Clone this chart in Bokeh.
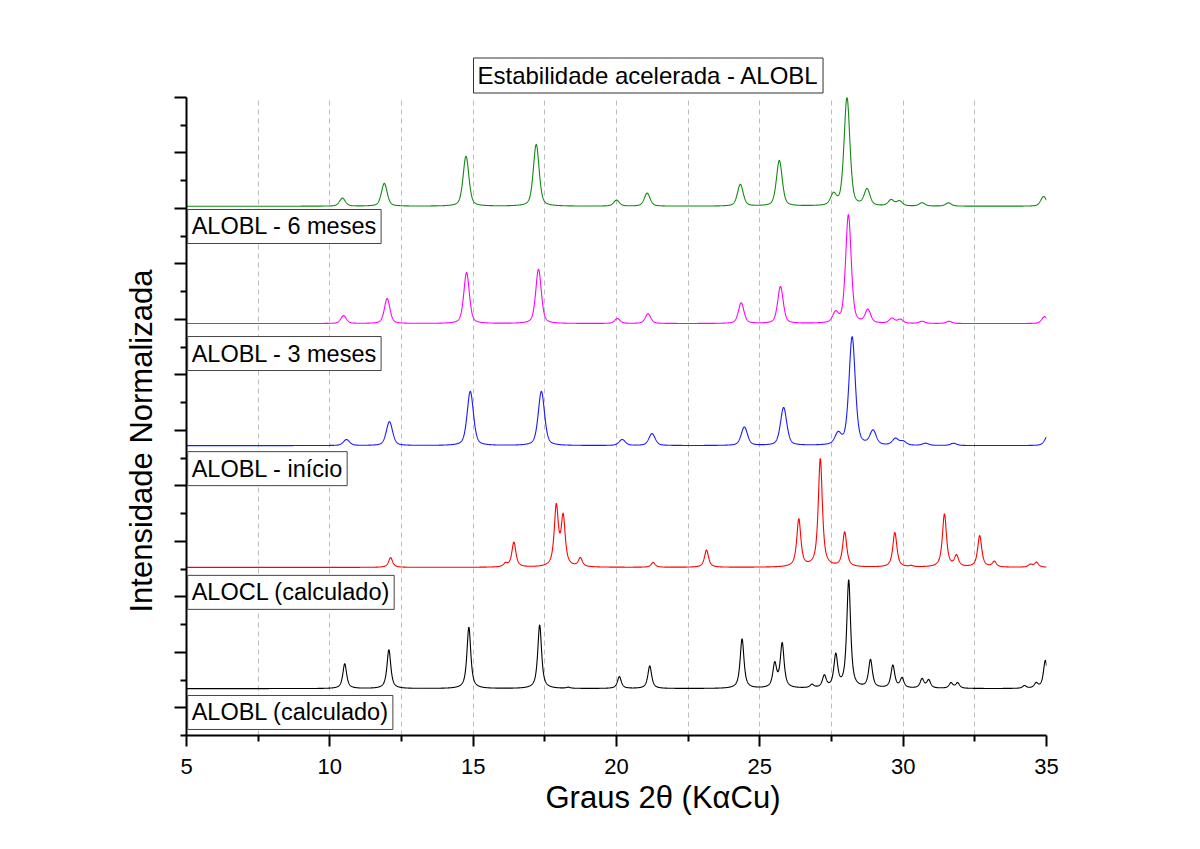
import numpy as np
from bokeh.plotting import figure
from bokeh.models import Label, FixedTicker, CustomJSTickFormatter, Range1d, Title
from bokeh.embed import file_html
from bokeh.resources import INLINE

# ---------------- data ----------------
x_start, x_end = 5, 35
y_start, y_end = 0, 23

# ALOBL (calculado) - black
alobl_calc_pos = [10.52, 12.06, 14.85, 17.32, 18.32, 20.10, 21.16, 24.38, 25.52, 25.78, 26.82,
                  27.25, 27.65, 28.10, 28.86, 29.64, 29.96, 30.66, 30.89, 31.67, 31.90,
                  34.23, 34.64, 34.96]
alobl_calc_int = [0.23, 0.36, 0.57, 0.59, 0.01, 0.11, 0.21, 0.46, 0.22, 0.41, 0.03,
                  0.11, 0.30, 1.00, 0.26, 0.21, 0.09, 0.085, 0.075, 0.05, 0.05,
                  0.025, 0.045, 0.26]

# ALOCL (calculado) - red
alocl_calc_pos = [12.12, 16.13, 16.42, 17.90, 18.14, 18.74, 21.28, 23.14, 26.36, 27.11, 27.96,
                  29.71, 30.28, 31.44, 31.86, 32.67, 33.18, 34.44, 34.65]
alocl_calc_int = [0.09, 0.03, 0.23, 0.55, 0.45, 0.08, 0.045, 0.16, 0.44, 1.00, 0.32,
                  0.32, 0.01, 0.49, 0.10, 0.29, 0.05, 0.025, 0.045]

# ALOBL - inicio - blue
alobl_0_pos = [10.58, 12.08, 14.90, 17.38, 20.20, 21.24, 24.46, 25.83, 27.73, 28.22, 28.95,
               29.73, 30.00, 30.78, 31.76, 35.05]
alobl_0_int = [0.055, 0.22, 0.50, 0.50, 0.055, 0.11, 0.17, 0.35, 0.10, 1.00, 0.13,
               0.06, 0.035, 0.02, 0.02, 0.09]

# ALOBL - 3 meses - magenta
alobl_3_pos = [10.48, 12.00, 14.77, 17.28, 20.03, 21.10, 24.35, 25.72, 27.64, 28.09, 28.77,
               29.61, 29.90, 30.66, 31.60, 34.93]
alobl_3_int = [0.073, 0.23, 0.47, 0.50, 0.045, 0.09, 0.19, 0.34, 0.09, 1.00, 0.12,
               0.045, 0.036, 0.02, 0.02, 0.064]

# ALOBL - 6 meses - green
alobl_6_pos = [10.44, 11.90, 14.75, 17.20, 20.00, 21.07, 24.32, 25.68, 27.57, 28.04, 28.74,
               29.58, 29.87, 30.66, 31.58, 34.90]
alobl_6_int = [0.074, 0.21, 0.46, 0.57, 0.055, 0.12, 0.20, 0.42, 0.10, 1.00, 0.15,
               0.055, 0.045, 0.03, 0.03, 0.09]

series_names = ["ALOBL (calculado)", "ALOCL (calculado)", "ALOBL - início",
                "ALOBL - 3 meses", "ALOBL - 6 meses"]
series_pos = [alobl_calc_pos, alocl_calc_pos, alobl_0_pos, alobl_3_pos, alobl_6_pos]
series_int = [alobl_calc_int, alocl_calc_int, alobl_0_int, alobl_3_int, alobl_6_int]
series_offset = [1.69, 6.06, 10.45, 14.85, 19.08]
series_fwhm = [0.16, 0.17, 0.26, 0.23, 0.24]
series_eta = [0.8, 0.8, 0.45, 0.45, 0.45]
series_color = ["#000000", "#ff0000", "#1a1aff", "#ff00ff", "#118a11"]
label_y = [0.83, 5.16, 9.62, 13.77, 18.35]
scale = 3.93

x_major = [5, 10, 15, 20, 25, 30, 35]
x_minor = [7.5, 12.5, 17.5, 22.5, 27.5, 32.5]
x_grid = [7.5, 10, 12.5, 15, 17.5, 20, 22.5, 25, 27.5, 30, 32.5]
y_major = [1, 3, 5, 7, 9, 11, 13, 15, 17, 19, 21, 23]
y_minor = [0, 2, 4, 6, 8, 10, 12, 14, 16, 18, 20, 22]

title_text = "Estabilidade acelerada - ALOBL"
x_label = "Graus 2θ (KαCu)"
y_label = "Intensidade Normalizada"

FONT = "Liberation Sans"

# ---------------- figure ----------------
p = figure(width=1200, height=849, output_backend="svg", toolbar_location=None,
           x_range=Range1d(x_start, x_end), y_range=Range1d(y_start, y_end),
           min_border_left=186, min_border_right=154, min_border_top=97, min_border_bottom=114,
           background_fill_color="white", border_fill_color="white")
p.outline_line_color = None

tt = np.linspace(x_start, x_end, 4001)


def profile(pos, inten, fwhm, eta):
    y = np.zeros_like(tt)
    g = fwhm / 2.0
    for c, a in zip(pos, inten):
        d = tt - c
        lor = 1.0 / (1.0 + (d / g) ** 2)
        gau = np.exp(-np.log(2) * (d / g) ** 2)
        y += a * (eta * lor + (1 - eta) * gau)
    return y / y.max()


for pos, inten, off, fw, eta, col in zip(series_pos, series_int, series_offset,
                                         series_fwhm, series_eta, series_color):
    yy = off + scale * profile(pos, inten, fw, eta)
    p.line(tt, yy, line_color=col, line_width=1.1)

# axes
p.xaxis.ticker = FixedTicker(ticks=x_major, minor_ticks=x_minor)
p.yaxis.ticker = FixedTicker(ticks=y_major, minor_ticks=y_minor)
p.yaxis.formatter = CustomJSTickFormatter(code="return ''")
for ax in (p.xaxis[0], p.yaxis[0]):
    ax.axis_line_width = 2
    ax.major_tick_line_width = 2
    ax.minor_tick_line_width = 2
    ax.major_tick_in = 0
    ax.minor_tick_in = 0
    ax.axis_line_color = "black"
    ax.major_tick_line_color = "black"
    ax.minor_tick_line_color = "black"
p.xaxis.major_tick_out = 11
p.xaxis.minor_tick_out = 6
p.yaxis.major_tick_out = 12
p.yaxis.minor_tick_out = 6
p.yaxis.major_label_standoff = 0
p.xaxis.major_label_text_font = FONT
p.xaxis.major_label_text_font_size = "22px"
p.xaxis.major_label_text_color = "black"
p.xaxis.major_label_standoff = 12

p.xgrid.ticker = FixedTicker(ticks=x_grid)
p.xgrid.grid_line_dash = "5 4"
p.xgrid.grid_line_color = "#bdbdbd"
p.xgrid.grid_line_width = 1
p.ygrid.visible = False

# title and axis titles
p.add_layout(Title(text=title_text, text_font=FONT, text_font_size="24px",
                   text_font_style="normal", text_color="black", align="left", offset=287,
                   standoff=9, border_line_color="#333333", background_fill_color="white",
                   padding=4), "above")
p.add_layout(Title(text=x_label, text_font=FONT, text_font_size="31px",
                   text_font_style="normal", text_color="black", align="left", offset=359,
                   standoff=2), "below")
p.add_layout(Title(text=y_label, text_font=FONT, text_font_size="31px",
                   text_font_style="normal", text_color="black", align="left", offset=123,
                   standoff=32), "left")

for name, ly in zip(series_names, label_y):
    p.add_layout(Label(x=5.04, y=ly, text=name, text_font=FONT, text_font_size="23.5px",
                       text_align="left", text_baseline="middle", text_color="black",
                       border_line_color="#444444", background_fill_color="white", padding=4))

open("out.html", "w").write(file_html(p, INLINE))
